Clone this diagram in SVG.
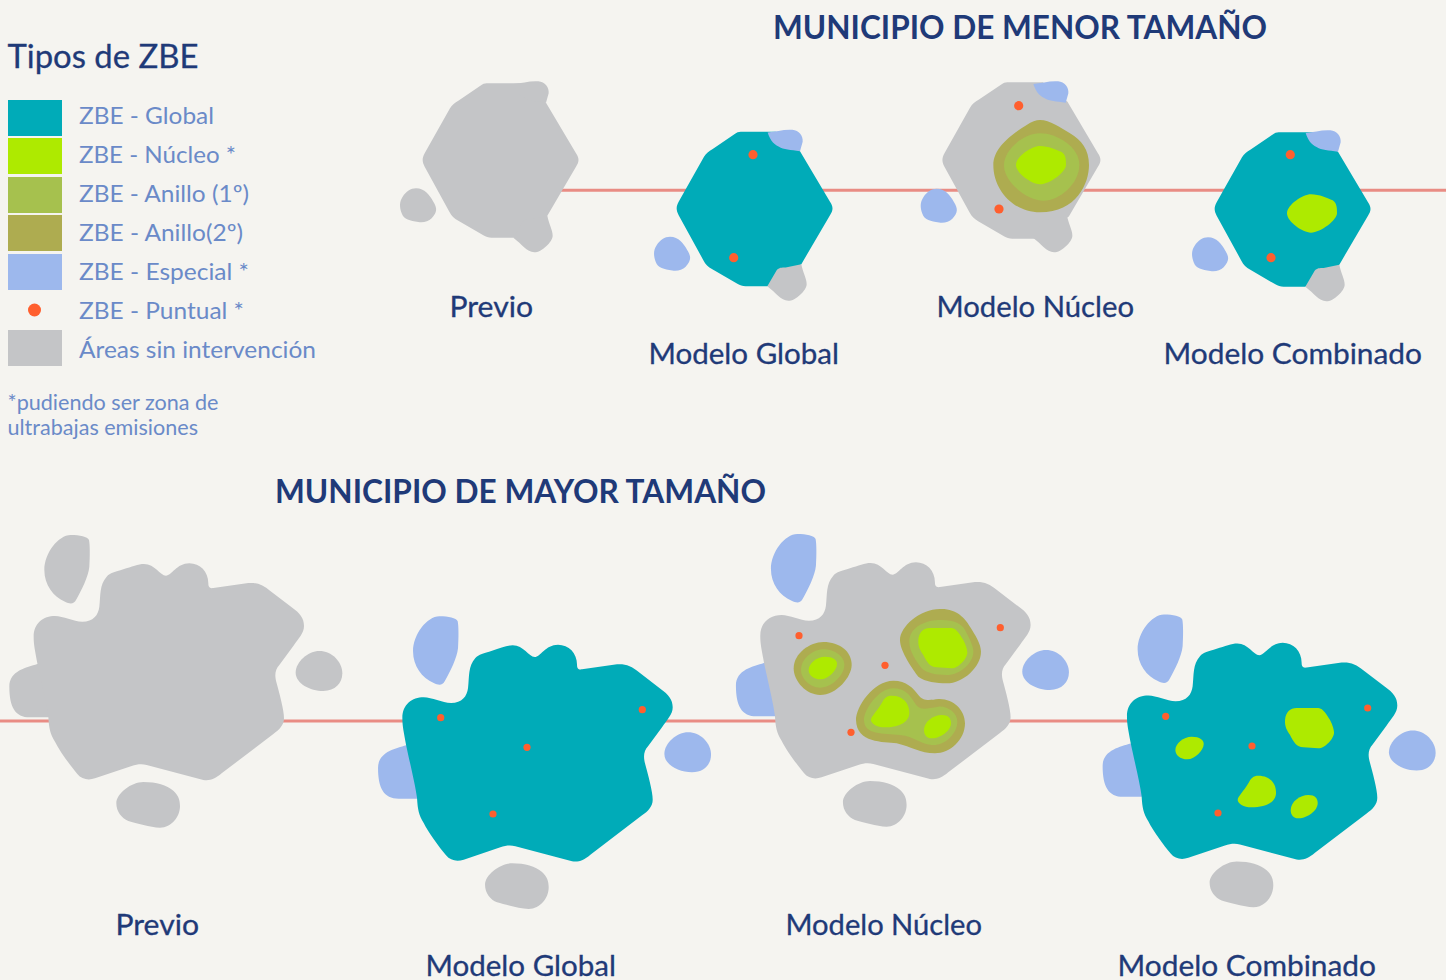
<svg xmlns="http://www.w3.org/2000/svg" width="1446" height="980" viewBox="0 0 1446 980">
<style>
text{font-family:"Lato","Noto Sans","Liberation Sans",sans-serif}
.h{fill:#1F3A78;font-size:33px;font-weight:700}
.t{fill:#1F3A78;font-size:32px;stroke:#1F3A78;stroke-width:.3}
.m{fill:#1F3A78;font-size:28px;stroke:#1F3A78;stroke-width:.3}
.l{fill:#6A8AC8;font-size:24px}
.f{fill:#6A8AC8;font-size:21px}
.teal{fill:#00ABB8}.lime{fill:#AEEA00}.r1{fill:#A6C14E}.r2{fill:#AEAC50}.blue{fill:#9DB8ED}.gray{fill:#C4C5C7}.dot{fill:#FF5F2E}
.line{stroke:#E98C84;stroke-width:3;fill:none}
</style>
<defs>
<path id="bigBody" d="M101,350 C101,310 130,288 165,288 C190,288 220,305 247,305 C280,305 295,285 298,260 C302,225 298,195 320,170 C330,158 345,157 370,148 C395,140 415,132 432,132 C465,132 480,167 498,167 C515,167 530,130 568,130 C600,130 625,155 625,190 C625,200 628,206 640,204 L745,189 C770,187 790,195 810,212 L875,262 C900,280 912,295 912,318 C912,340 895,355 880,378 L838,435 C825,450 823,465 830,490 C838,520 852,570 852,595 C852,615 838,630 820,642 L665,760 C645,777 630,783 610,780 L440,735 C425,731 410,733 395,738 L285,775 C265,782 245,778 232,762 C210,735 180,695 165,665 C150,640 147,625 145,590 C140,550 120,470 112,430 C105,390 101,375 101,350 Z"/>
<path id="bigLeft" d="M112,432 C80,442 28,452 28,500 C28,560 45,592 90,592 L200,592 L200,432 Z"/>
<path id="bigTop" d="M212,45 C240,45 262,50 267,60 C270,75 270,110 268,140 C265,170 245,210 228,240 C222,252 210,253 195,245 C160,230 133,195 133,150 C133,100 175,45 212,45Z"/>
<path id="bigRight" d="M958,393 C995,393 1027,425 1027,460 C1027,490 1005,513 970,513 C930,513 887,490 887,458 C887,425 925,393 958,393Z"/>
<path id="bigBottom" d="M430,786 C470,786 500,795 520,812 C535,825 540,840 540,858 C540,890 515,923 480,923 C450,922 410,910 385,903 C365,895 349,875 349,850 C349,820 395,786 430,786Z"/>
<path id="smBody" d="M290,40 L395,40 L468,98 L558,250 C568,265 568,275 558,290 L472,437 L370,503 L305,503 C295,503 288,500 280,496 L205,452 C192,445 185,438 178,425 L104,290 C96,275 96,265 104,250 L180,115 C186,105 195,97 205,92 L270,48 C278,42 284,40 290,40Z"/>
<path id="smTop" d="M371,42 C395,40 420,32 445,34 C465,36 478,52 476,70 L468,98 C440,95 418,93 405,85 C385,75 377,60 371,42Z"/>
<path id="smBot" d="M370,503 L398,455 C405,447 413,447 425,447 L472,437 C476,460 488,480 488,497 C488,515 455,547 433,547 C410,545 395,522 370,503Z"/>
<path id="smLeft" d="M78,355 C105,355 118,375 130,395 C142,415 142,425 125,445 C115,455 100,458 85,456 C60,452 42,450 35,430 C28,410 28,395 38,380 C48,365 62,355 78,355Z"/>
<path id="cA" d="M600,324 L665,324 C680,325 690,345 700,360 C708,375 712,390 712,398 C712,415 685,445 665,445 L620,442 C600,442 590,425 580,405 C570,390 564,380 565,360 C567,335 580,325 600,324Z"/>
<path id="cB" d="M285,410 C310,410 321,420 321,432 C321,450 295,478 272,478 C250,478 236,465 236,450 C236,430 260,410 285,410Z"/>
<path id="cC" d="M485,527 C520,527 538,550 538,578 C538,610 500,622 465,622 C440,622 423,610 423,600 C423,590 440,575 455,550 C462,535 470,527 485,527Z"/>
<path id="cD" d="M635,585 C655,585 663,595 663,610 C663,630 635,655 605,655 C590,655 582,645 582,630 C582,605 610,585 635,585Z"/>
<path id="smCore" d="M420,228 C445,228 470,240 485,246 C498,255 498,270 498,285 C498,305 450,343 420,343 C395,343 348,310 348,285 C348,260 395,228 420,228Z"/>
</defs>
<rect width="1446" height="980" fill="#F5F4F0"/>
<g id="connectors">
<line class="line" x1="500" y1="190.3" x2="1446" y2="190.3"/>
<line class="line" x1="0" y1="721" x2="1140" y2="721"/>
</g>
<g id="legend">
<text class="t" x="7.5" y="68" textLength="191" lengthAdjust="spacingAndGlyphs">Tipos de ZBE</text>
<rect class="teal" x="8" y="100" width="54" height="36"/>
<rect class="lime" x="8" y="138" width="54" height="36"/>
<rect class="r1" x="8" y="177" width="54" height="36"/>
<rect class="r2" x="8" y="215" width="54" height="36"/>
<rect class="blue" x="8" y="254" width="54" height="36"/>
<circle class="dot" cx="34.5" cy="310" r="6.5"/>
<rect class="gray" x="8" y="330" width="54" height="36"/>
<text class="l" x="79" y="124" textLength="135" lengthAdjust="spacingAndGlyphs">ZBE - Global</text>
<text class="l" x="79" y="163" textLength="157" lengthAdjust="spacingAndGlyphs">ZBE - Núcleo *</text>
<text class="l" x="79" y="202" textLength="170" lengthAdjust="spacingAndGlyphs">ZBE - Anillo (1º)</text>
<text class="l" x="79" y="241" textLength="164" lengthAdjust="spacingAndGlyphs">ZBE - Anillo(2º)</text>
<text class="l" x="79" y="280" textLength="170" lengthAdjust="spacingAndGlyphs">ZBE - Especial *</text>
<text class="l" x="79" y="319" textLength="165" lengthAdjust="spacingAndGlyphs">ZBE - Puntual *</text>
<text class="l" x="79" y="358" textLength="237" lengthAdjust="spacingAndGlyphs">Áreas sin intervención</text>
<text class="f" x="7.5" y="410" textLength="211" lengthAdjust="spacingAndGlyphs">*pudiendo ser zona de</text>
<text class="f" x="7.5" y="435" textLength="190.5" lengthAdjust="spacingAndGlyphs">ultrabajas emisiones</text>
</g>
<text class="h" x="773" y="39" textLength="494" lengthAdjust="spacingAndGlyphs">MUNICIPIO DE MENOR TAMAÑO</text>
<text class="h" x="275" y="503" textLength="491" lengthAdjust="spacingAndGlyphs">MUNICIPIO DE MAYOR TAMAÑO</text>

<g id="small-previo" transform="translate(390,70) scale(.33333)">
<use href="#smLeft" class="gray"/><use href="#smBody" class="gray"/><use href="#smTop" class="gray"/><use href="#smBot" class="gray"/>
</g>
<text class="m" x="449.5" y="317" textLength="83.5" lengthAdjust="spacingAndGlyphs">Previo</text>

<g id="small-global" transform="translate(644,118.5) scale(.33333)">
<use href="#smLeft" class="blue"/><use href="#smBody" class="teal"/><use href="#smBot" class="gray"/><use href="#smTop" class="blue"/>
</g>
<circle class="dot" cx="753" cy="154.7" r="4.6"/><circle class="dot" cx="733.7" cy="257.7" r="4.6"/>
<text class="m" x="648.5" y="364" textLength="190.5" lengthAdjust="spacingAndGlyphs">Modelo Global</text>

<g id="small-nucleo">
<g transform="translate(910.7,70.5) scale(.33333)"><use href="#smLeft" class="blue"/></g>
<g transform="translate(909.3,68.7) scale(.338)"><use href="#smBody" class="gray"/></g>
<g transform="translate(909.7,70) scale(.33333)"><use href="#smBot" class="gray"/><use href="#smTop" class="blue"/></g>
<g transform="translate(900,70) scale(.33333)">
<path class="r2" d="M420,150 C450,150 480,172 510,190 C545,210 567,240 567,285 C567,340 530,427 420,427 C340,427 280,360 280,285 C280,230 340,190 380,165 C395,155 408,150 420,150Z"/>
<path class="r1" d="M420,190 C470,190 538,230 538,285 C538,340 480,392 430,392 C385,392 312,340 312,285 C312,240 370,190 420,190Z"/>
<use href="#smCore" class="lime"/>
</g>
<circle class="dot" cx="1018.7" cy="105.7" r="4.6"/><circle class="dot" cx="999" cy="209" r="4.6"/>
</g>
<text class="m" x="936.5" y="317" textLength="197.5" lengthAdjust="spacingAndGlyphs">Modelo Núcleo</text>

<g id="small-combinado">
<g transform="translate(1182,119) scale(.33333)">
<use href="#smLeft" class="blue"/><use href="#smBody" class="teal"/><use href="#smBot" class="gray"/><use href="#smTop" class="blue"/>
</g>
<g transform="translate(1171,118.3) scale(.33333)"><use href="#smCore" class="lime"/></g>
<circle class="dot" cx="1290.3" cy="154.7" r="4.6"/><circle class="dot" cx="1271" cy="257.7" r="4.6"/>
</g>
<text class="m" x="1163.5" y="364" textLength="258.5" lengthAdjust="spacingAndGlyphs">Modelo Combinado</text>

<g id="big-previo" transform="translate(0,520) scale(.33333)">
<use href="#bigTop" class="gray"/><use href="#bigLeft" class="gray"/><use href="#bigRight" class="gray"/><use href="#bigBottom" class="gray"/><use href="#bigBody" class="gray"/>
</g>
<text class="m" x="115.5" y="935" textLength="83.5" lengthAdjust="spacingAndGlyphs">Previo</text>

<g id="big-global">
<g transform="translate(368.7,601.3) scale(.33333)">
<use href="#bigTop" class="blue"/><use href="#bigLeft" class="blue"/><use href="#bigRight" class="blue"/><use href="#bigBottom" class="gray"/><use href="#bigBody" class="teal"/>
</g>
<circle class="dot" cx="440.7" cy="717.7" r="3.6"/><circle class="dot" cx="642.3" cy="709.7" r="3.6"/><circle class="dot" cx="527" cy="747.3" r="3.6"/><circle class="dot" cx="493" cy="814" r="3.6"/>
</g>
<text class="m" x="425.5" y="975.5" textLength="190.5" lengthAdjust="spacingAndGlyphs">Modelo Global</text>

<g id="big-nucleo">
<g transform="translate(726.6,519) scale(.33333)">
<use href="#bigTop" class="blue"/><use href="#bigLeft" class="blue"/><use href="#bigRight" class="blue"/><use href="#bigBottom" class="gray"/><use href="#bigBody" class="gray"/>
</g>
<g transform="translate(730,520) scale(.33333)">
<path class="r2" d="M630,267 C680,265 705,295 720,320 C735,345 753,370 753,395 C753,440 700,490 650,490 C620,490 585,485 565,470 C550,450 510,395 510,360 C510,320 570,267 630,267Z"/>
<path class="r1" d="M625,300 C670,298 695,310 705,330 C715,350 730,375 730,395 C730,430 690,465 650,465 C620,465 590,460 575,445 C560,425 538,395 538,365 C538,325 580,302 625,300Z"/>
<use href="#cA" class="lime"/>
<path class="r2" d="M280,366 C330,366 365,395 365,435 C365,470 320,525 270,525 C230,525 191,485 191,445 C191,400 240,366 280,366Z"/>
<path class="r1" d="M280,388 C315,388 343,410 343,435 C343,465 305,503 270,503 C240,503 213,475 213,450 C213,415 250,388 280,388Z"/>
<use href="#cB" class="lime"/>
<path class="r2" d="M490,482 C530,482 550,505 565,525 C580,545 600,540 625,537 C670,535 705,570 705,610 C705,660 660,700 615,700 C570,700 545,680 500,670 C460,665 380,670 378,600 C378,560 430,482 490,482Z"/>
<path class="r1" d="M490,505 C525,505 540,525 555,550 C570,575 590,565 625,560 C655,558 682,580 682,605 C682,640 645,678 605,675 C565,670 555,650 510,645 C460,640 402,645 402,600 C402,570 445,505 490,505Z"/>
<use href="#cC" class="lime"/><use href="#cD" class="lime"/>
</g>
<circle class="dot" cx="799" cy="635.7" r="3.6"/><circle class="dot" cx="1000.3" cy="627.7" r="3.6"/><circle class="dot" cx="885" cy="665.3" r="3.6"/><circle class="dot" cx="851" cy="732.3" r="3.6"/>
</g>
<text class="m" x="785.5" y="935" textLength="196.5" lengthAdjust="spacingAndGlyphs">Modelo Núcleo</text>

<g id="big-combinado">
<g transform="translate(1093.3,599.5) scale(.33333)">
<use href="#bigTop" class="blue"/><use href="#bigLeft" class="blue"/><use href="#bigRight" class="blue"/><use href="#bigBottom" class="gray"/><use href="#bigBody" class="teal"/>
</g>
<g transform="translate(1096.7,600) scale(.33333)">
<use href="#cA" class="lime"/><use href="#cB" class="lime"/><use href="#cC" class="lime"/><use href="#cD" class="lime"/>
</g>
<circle class="dot" cx="1165.7" cy="716.3" r="3.6"/><circle class="dot" cx="1367.7" cy="708" r="3.6"/><circle class="dot" cx="1252" cy="746" r="3.6"/><circle class="dot" cx="1218" cy="813" r="3.6"/>
</g>
<text class="m" x="1117.5" y="975.5" textLength="258.5" lengthAdjust="spacingAndGlyphs">Modelo Combinado</text>
</svg>
